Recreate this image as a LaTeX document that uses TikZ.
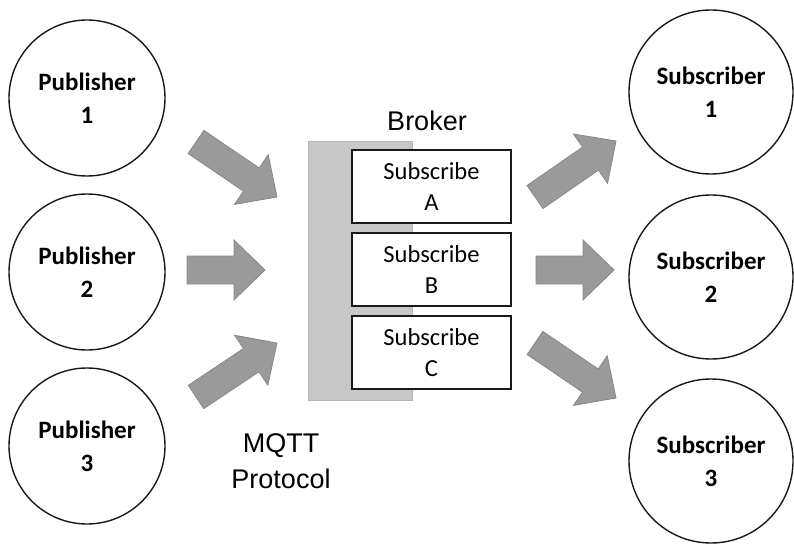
\documentclass[tikz,border=0pt]{standalone}
\usepackage{fontspec}
\usetikzlibrary{calc}
\newfontfamily\calfont{Carlito}
\newfontfamily\arifont{Liberation Sans}
\definecolor{arrowfill}{RGB}{154,154,154}
\definecolor{arrowedge}{RGB}{135,135,135}
\definecolor{brokerfill}{RGB}{199,199,199}
\definecolor{brokeredge}{RGB}{182,182,182}
\definecolor{ink}{RGB}{25,25,25}

% broad block arrow from coordinate #1 (tail) to coordinate #2 (tip)
\newcommand\fatarrow[2]{%
  \path[blockarr] let \p1=($(#2)-(#1)$), \n1={atan2(\y1,\x1)}, \n2={veclen(\x1,\y1)} in
    [shift={(#1)}, rotate=\n1]
    (0,-14) -- ({\n2-31},-14) -- ({\n2-31},-30) -- (\n2,0) -- ({\n2-31},30) -- ({\n2-31},14) -- (0,14) -- cycle;}

\begin{document}
\begin{tikzpicture}[x=1pt,y=-1pt,
  client/.style={circle, draw=ink, line width=1.4pt, fill=white, inner sep=0pt,
    align=center, font=\calfont\bfseries\fontsize{25}{33}\selectfont},
  pubnode/.style={client, minimum size=156pt},
  subnode/.style={client, minimum size=164pt},
  topicbox/.style={rectangle, draw=ink, line width=1.4pt, fill=white, inner sep=0pt,
    minimum width=159pt, minimum height=73pt, align=center,
    font=\calfont\fontsize{24.5}{31}\selectfont},
  label/.style={align=center, inner sep=0pt, font=\arifont\fontsize{27}{36}\selectfont},
  blockarr/.style={fill=arrowfill, draw=arrowedge, line width=0.8pt, line join=miter}]
\useasboundingbox (0,0) rectangle (794,545);

% publishers
\node[pubnode] (pub1) at (87,98) {Publisher\\1};
\node[pubnode] (pub2) at (87,272) {Publisher\\2};
\node[pubnode] (pub3) at (87,446) {Publisher\\3};

% subscribers
\node[subnode] (sub1) at (711,92) {Subscriber\\1};
\node[subnode] (sub2) at (711,277) {Subscriber\\2};
\node[subnode] (sub3) at (711,461) {Subscriber\\3};

% broker with its topics
\node[rectangle, fill=brokerfill, draw=brokeredge, line width=0.8pt, inner sep=0pt,
  minimum width=104pt, minimum height=259pt] (broker) at (360,270.5) {};
\node[label] (brokerlbl) at (427,121) {Broker};
\node[topicbox] (ta) at (431.5,186.5) {Subscribe\\A};
\node[topicbox] (tb) at (431.5,269.5) {Subscribe\\B};
\node[topicbox] (tc) at (431.5,352.5) {Subscribe\\C};

\node[label] (proto) at (281,461) {MQTT\\Protocol};

% arrow end points
\coordinate (l1s) at (196,142); \coordinate (l1e) at (277,197);
\coordinate (l2s) at (187,270); \coordinate (l2e) at (265,270);
\coordinate (l3s) at (196,397); \coordinate (l3e) at (277,343);
\coordinate (r1s) at (535,197); \coordinate (r1e) at (616,141);
\coordinate (r2s) at (536,270); \coordinate (r2e) at (614,270);
\coordinate (r3s) at (535,343); \coordinate (r3e) at (616,398);

\fatarrow{l1s}{l1e}
\fatarrow{l2s}{l2e}
\fatarrow{l3s}{l3e}
\fatarrow{r1s}{r1e}
\fatarrow{r2s}{r2e}
\fatarrow{r3s}{r3e}
\end{tikzpicture}
\end{document}
